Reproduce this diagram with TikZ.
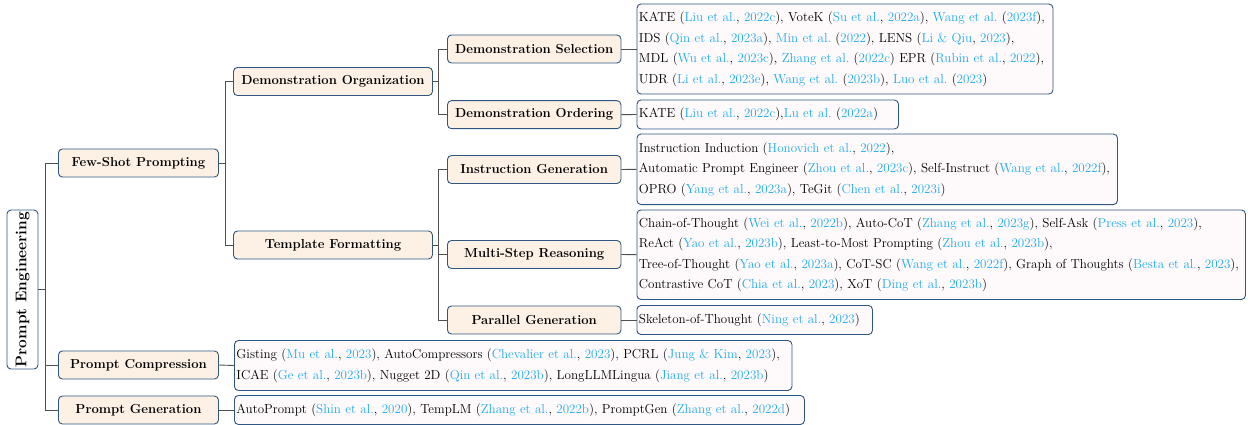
\documentclass[tikz,border=0pt]{standalone}
\usepackage{xcolor}
\definecolor{bordc}{RGB}{48,86,130}
\definecolor{catfill}{RGB}{253,241,230}
\definecolor{leaffill}{RGB}{254,249,250}
\definecolor{citeblue}{RGB}{30,172,235}
\definecolor{linec}{RGB}{80,80,80}
\newcommand{\cb}[1]{\textcolor{citeblue}{#1}}
\tikzset{
  catbox/.style={draw=bordc, line width=0.9pt, rounded corners=4pt, fill=catfill,
    minimum height=28pt, inner sep=1pt, anchor=west,
    font=\fontsize{13.05}{15}\selectfont\bfseries},
  leafbox/.style={draw=bordc, line width=0.9pt, rounded corners=4pt, fill=leaffill,
    inner xsep=2pt, inner ysep=0pt, anchor=west, align=left,
    font=\fontsize{13.05}{20.5}\selectfont\frenchspacing},
  rootbox/.style={draw=bordc, line width=0.9pt, rounded corners=4pt, fill=white,
    rotate=90, minimum width=159pt, minimum height=31pt, inner sep=0pt,
    font=\fontsize{15.5}{18}\selectfont\bfseries},
  conn/.style={draw=linec, line width=0.9pt}
}
\begin{document}
\begin{tikzpicture}[x=1pt,y=-1pt]
\useasboundingbox (0,0) rectangle (1248,425);
% root
\node[rootbox] (root) at (22.5,289.5) {Prompt Engineering};
% level 1
\node[catbox, minimum width=160pt] (fs) at (58,163) {Few-Shot Prompting};
\node[catbox, minimum width=160pt] (pc) at (58,365) {Prompt Compression};
\node[catbox, minimum width=160pt] (pg) at (58,410) {Prompt Generation};
% level 2
\node[catbox, minimum width=199pt] (dorg) at (233,81.5) {Demonstration Organization};
\node[catbox, minimum width=199pt] (tf) at (233,245) {Template Formatting};
% level 3
\node[catbox, minimum width=173.5pt] (ds) at (447,49) {Demonstration Selection};
\node[catbox, minimum width=173.5pt] (dord) at (447,114.7) {Demonstration Ordering};
\node[catbox, minimum width=173.5pt] (ig) at (447,169.5) {Instruction Generation};
\node[catbox, minimum width=173.5pt] (msr) at (447,254.5) {Multi-Step Reasoning};
\node[catbox, minimum width=173.5pt] (pgen) at (447,320) {Parallel Generation};
% leaves
\node[leafbox, text width=412pt, minimum height=90pt] (lds) at (636.5,49) {KATE (\cb{Liu et al.}, \cb{2022c}), VoteK (\cb{Su et al.}, \cb{2022a}), \cb{Wang et al.} (\cb{2023f}),\\
IDS (\cb{Qin et al.}, \cb{2023a}), \cb{Min et al.} (\cb{2022}), LENS (\cb{Li \& Qiu}, \cb{2023}),\\
MDL (\cb{Wu et al.}, \cb{2023c}), \cb{Zhang et al.} (\cb{2022c}) EPR (\cb{Rubin et al.}, \cb{2022}),\\
UDR (\cb{Li et al.}, \cb{2023e}), \cb{Wang et al.} (\cb{2023b}), \cb{Luo et al.} (\cb{2023})};
\node[leafbox, text width=257.5pt, minimum height=29pt] (ldo) at (636.5,114.5) {KATE (\cb{Liu et al.}, \cb{2022c}),\cb{Lu et al.} (\cb{2022a})};
\node[leafbox, text width=476.5pt, minimum height=70.5pt] (lig) at (636.5,169.3) {Instruction Induction (\cb{Honovich et al.}, \cb{2022}),\\
Automatic Prompt Engineer (\cb{Zhou et al.}, \cb{2023c}), Self-Instruct (\cb{Wang et al.}, \cb{2022f}),\\
OPRO (\cb{Yang et al.}, \cb{2023a}), TeGit (\cb{Chen et al.}, \cb{2023i})};
\node[leafbox, text width=604.5pt, minimum height=89.5pt] (lmsr) at (636.5,254.7) {Chain-of-Thought (\cb{Wei et al.}, \cb{2022b}), Auto-CoT (\cb{Zhang et al.}, \cb{2023g}), Self-Ask (\cb{Press et al.}, \cb{2023}),\\
ReAct (\cb{Yao et al.}, \cb{2023b}), Least-to-Most Prompting (\cb{Zhou et al.}, \cb{2023b}),\\
Tree-of-Thought (\cb{Yao et al.}, \cb{2023a}), CoT-SC (\cb{Wang et al.}, \cb{2022f}), Graph of Thoughts (\cb{Besta et al.}, \cb{2023}),\\
Contrastive CoT (\cb{Chia et al.}, \cb{2023}), XoT (\cb{Ding et al.}, \cb{2023b})};
\node[leafbox, text width=231.5pt, minimum height=29pt] (lpgen) at (636.5,320) {Skeleton-of-Thought (\cb{Ning et al.}, \cb{2023})};
\node[leafbox, text width=553.5pt, minimum height=50pt] (lpc) at (234,365.5) {Gisting (\cb{Mu et al.}, \cb{2023}), AutoCompressors (\cb{Chevalier et al.}, \cb{2023}), PCRL (\cb{Jung \& Kim}, \cb{2023}),\\
ICAE (\cb{Ge et al.}, \cb{2023b}), Nugget 2D (\cb{Qin et al.}, \cb{2023b}), LongLLMLingua (\cb{Jiang et al.}, \cb{2023b})};
\node[leafbox, text width=566pt, minimum height=29pt] (lpg) at (234,410) {AutoPrompt (\cb{Shin et al.}, \cb{2020}), TempLM (\cb{Zhang et al.}, \cb{2022b}), PromptGen (\cb{Zhang et al.}, \cb{2022d})};
% connectors
\foreach \c in {fs,pc,pg} \draw[conn] (root.south) -- +(7,0) |- (\c.west);
\foreach \c in {dorg,tf} \draw[conn] (fs.east) -- +(7,0) |- (\c.west);
\foreach \c in {ds,dord} \draw[conn] (dorg.east) -- +(6,0) |- (\c.west);
\foreach \c in {ig,msr,pgen} \draw[conn] (tf.east) -- +(6,0) |- (\c.west);
\draw[conn] (ds.east) -- (lds.west);
\draw[conn] (dord.east) -- (ldo.west);
\draw[conn] (ig.east) -- (lig.west);
\draw[conn] (msr.east) -- (lmsr.west);
\draw[conn] (pgen.east) -- (lpgen.west);
\draw[conn] (pc.east) -- (lpc.west);
\draw[conn] (pg.east) -- (lpg.west);
\end{tikzpicture}
\end{document}
